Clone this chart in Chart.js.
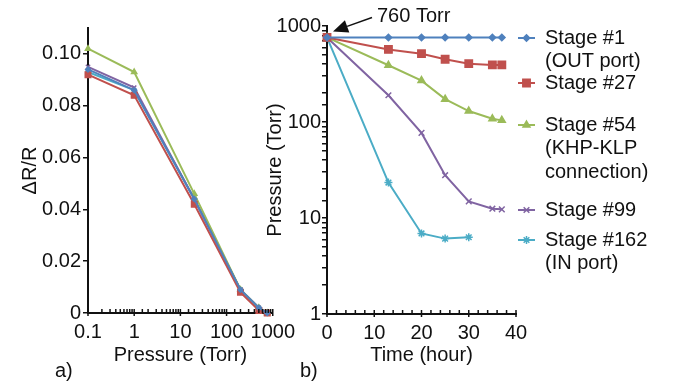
<!DOCTYPE html>
<html><head><meta charset="utf-8">
<script src="https://cdn.jsdelivr.net/npm/chart.js@4/dist/chart.umd.min.js"></script>
<style>
html,body{margin:0;padding:0;background:#fff;width:677px;height:384px;overflow:hidden;position:relative;font-family:'Liberation Sans',Arial,sans-serif;}
canvas{position:absolute;top:0;}
#ca{left:0}
#cb{left:250px}
.lbl{position:absolute;font-size:20px;color:#111;line-height:24px;}
</style></head><body>
<canvas id="ca" width="302" height="384"></canvas>
<canvas id="cb" width="427" height="384"></canvas>
<div class="lbl" style="left:55px;top:358px">a)</div>
<div class="lbl" style="left:300px;top:358px">b)</div>
<script>
// ---- data ----
const seriesNames = [['Stage #1','(OUT port)'],['Stage #27'],['Stage #54','(KHP-KLP','connection)'],['Stage #99'],['Stage #162','(IN port)']];
const seriesColors = ['#4F81BD','#C0504D','#9BBB59','#8064A2','#4BACC6'];
const seriesMarkers = ['rectRot','rect','triangle','crossRot','star'];

// panel a) : resistance change vs pressure
const pressureTorr = [0.1, 1, 20, 200, 500, 760];
const dR_stage1   = [0.094, 0.086, 0.044, 0.009, 0.002, 0];
const dR_stage27  = [0.092, 0.084, 0.042, 0.008, 0.001, 0];
const dR_stage54  = [0.102, 0.093, 0.046, 0.009, 0.002, 0];
const dR_stage99  = [0.095, 0.087, 0.044, 0.009, 0.002, 0];
const dR_stage162 = [0.093, 0.086, 0.044, 0.009, 0.002, 0];

// panel b) : pressure vs time
const timeHours   = [0, 13, 20, 25, 30, 35, 37];
const timeHours162 = [0, 13, 20, 25, 30];
const p_stage1   = [760, 760, 760, 760, 760, 760, 760];
const p_stage27  = [760, 570, 515, 450, 405, 393, 393];
const p_stage54  = [760, 390, 270, 173, 130, 108, 104];
const p_stage99  = [760, 190, 77, 27.9, 14.9, 12.5, 12.3];
const p_stage162 = [760, 23.4, 6.9, 6.1, 6.3];

const yTicksA = [0, 0.02, 0.04, 0.06, 0.08, 0.10];
const annotationText = '760 Torr';

// ---- helpers ----
const FONT = "'Liberation Sans', Arial, sans-serif";
const INK = '#111';
Chart.defaults.font.family = FONT;
Chart.defaults.font.size = 20;
Chart.defaults.color = INK;

const isPow10 = v => { const l = Math.log10(v); return Math.abs(l - Math.round(l)) < 1e-9; };
const fmt = v => String(Number(v.toPrecision(6)));
const pts = (xs, ys) => xs.map((x, i) => ({x: x, y: ys[i]}));

function makeDatasets(xsList, ysList, r) {
  return ysList.map((ys, i) => ({
    label: seriesNames[i].join(' '),
    data: pts(xsList[i], ys),
    borderColor: seriesColors[i],
    backgroundColor: seriesColors[i],
    pointBackgroundColor: seriesColors[i],
    pointBorderColor: seriesColors[i],
    pointStyle: seriesMarkers[i],
    pointRadius: seriesMarkers[i] === 'rect' ? r * 1.3 : (seriesMarkers[i] === 'rectRot' ? r * 0.8 : r),
    pointBorderWidth: 1.5,
    borderWidth: 2,
    fill: false,
    tension: 0,
    clip: false
  }));
}

const innerTicks = {
  id: 'innerTicks',
  afterDraw(chart) {
    const s = chart.scales.x, ctx = chart.ctx, y0 = s.top;
    ctx.save();
    ctx.strokeStyle = INK; ctx.lineWidth = 1.5;
    s.ticks.forEach(t => {
      const px = s.getPixelForValue(t.value);
      const major = t.label !== '' && t.label != null;
      ctx.beginPath();
      ctx.moveTo(px, y0 - 4);
      ctx.lineTo(px, major ? y0 + 3 : y0);
      ctx.stroke();
    });
    ctx.restore();
  }
};

function yAxisCommon(width) {
  return {
    border: {display: true, color: INK, width: 2},
    grid: {display: true, drawOnChartArea: false, drawTicks: true, tickLength: 5, color: INK, lineWidth: 1.5},
    afterFit: s => { s.width = width; }
  };
}
function xAxisCommon(height) {
  return {
    border: {display: true, color: INK, width: 2},
    grid: {display: true, drawOnChartArea: false, drawTicks: false},
    afterFit: s => { s.height = height; }
  };
}

// ---- panel a ----
new Chart(document.getElementById('ca'), {
  type: 'line',
  data: {
    datasets: makeDatasets(
      [pressureTorr, pressureTorr, pressureTorr, pressureTorr, pressureTorr],
      [dR_stage1, dR_stage27, dR_stage54, dR_stage99, dR_stage162], 3)
  },
  options: {
    responsive: false, animation: false,
    layout: {padding: {left: 18, top: 28, right: 24, bottom: 17}},
    plugins: {legend: {display: false}, tooltip: {enabled: false}},
    scales: {
      x: Object.assign(xAxisCommon(54), {
        type: 'logarithmic', min: 0.1, max: 1000,
        ticks: {autoSkip: false, maxRotation: 0, padding: 7,
          callback: v => isPow10(v) ? fmt(v) : ''},
        title: {display: true, text: 'Pressure (Torr)', padding: 0}
      }),
      y: Object.assign(yAxisCommon(70), {
        type: 'linear', min: 0, max: 0.11,
        afterBuildTicks: s => { s.ticks = yTicksA.map(v => ({value: v})); },
        ticks: {padding: 2, callback: v => v === 0 ? '0' : v.toFixed(2)},
        title: {display: true, text: 'ΔR/R', padding: 0}
      })
    }
  },
  plugins: [innerTicks]
});

// ---- panel b ----
const legendAndNote = {
  id: 'legendAndNote',
  afterDraw(chart) {
    const ctx = chart.ctx;
    ctx.save();
    // legend
    const firstLineY = [38, 83, 125, 210, 240];
    const lineH = 23.5, x0 = 268, x1 = 285, tx = 295;
    chart.data.datasets.forEach((ds, i) => {
      const y = firstLineY[i];
      ctx.strokeStyle = ds.borderColor; ctx.lineWidth = 2;
      ctx.beginPath(); ctx.moveTo(x0, y); ctx.lineTo(x1, y); ctx.stroke();
      ctx.fillStyle = ds.borderColor; ctx.lineWidth = 1.5;
      if (Chart.helpers && Chart.helpers.drawPoint) {
        Chart.helpers.drawPoint(ctx, {pointStyle: ds.pointStyle, radius: ds.pointRadius, rotation: 0, borderWidth: 1.5}, (x0 + x1) / 2, y);
      }
      ctx.fillStyle = INK;
      ctx.font = '20px ' + FONT;
      ctx.textBaseline = 'middle'; ctx.textAlign = 'left';
      seriesNames[i].forEach((line, k) => ctx.fillText(line, tx, y + k * lineH));
    });
    // annotation arrow pointing to the starting pressure
    const px = chart.scales.x.getPixelForValue(0);
    const py = chart.scales.y.getPixelForValue(p_stage1[0]);
    const tip = {x: px + 6, y: py - 6};
    const start = {x: tip.x + 39, y: tip.y - 14};
    const dx = start.x - tip.x, dy = start.y - tip.y, L = Math.hypot(dx, dy);
    const ux = dx / L, uy = dy / L;
    const hl = 15, hw = 6.5;
    ctx.strokeStyle = INK; ctx.lineWidth = 1.5;
    ctx.beginPath(); ctx.moveTo(start.x, start.y); ctx.lineTo(tip.x + ux * hl, tip.y + uy * hl); ctx.stroke();
    ctx.fillStyle = INK;
    ctx.beginPath();
    ctx.moveTo(tip.x, tip.y);
    ctx.lineTo(tip.x + ux * hl - uy * hw, tip.y + uy * hl + ux * hw);
    ctx.lineTo(tip.x + ux * hl + uy * hw, tip.y + uy * hl - ux * hw);
    ctx.closePath(); ctx.fill();
    ctx.font = '20px ' + FONT;
    ctx.textBaseline = 'middle'; ctx.textAlign = 'left';
    ctx.fillText(annotationText, start.x + 5, start.y - 0.5);
    ctx.restore();
  }
};

new Chart(document.getElementById('cb'), {
  type: 'line',
  data: {
    datasets: makeDatasets(
      [timeHours, timeHours, timeHours, timeHours, timeHours162],
      [p_stage1, p_stage27, p_stage54, p_stage99, p_stage162], 4)
  },
  options: {
    responsive: false, animation: false,
    layout: {padding: {left: 13, top: 26, right: 161, bottom: 17}},
    plugins: {legend: {display: false}, tooltip: {enabled: false}},
    scales: {
      x: Object.assign(xAxisCommon(53), {
        type: 'linear', min: 0, max: 40,
        ticks: {stepSize: 2, autoSkip: false, maxRotation: 0, padding: 7,
          callback: v => (v % 10 === 0) ? String(v) : ''},
        title: {display: true, text: 'Time (hour)', padding: 0}
      }),
      y: Object.assign(yAxisCommon(64), {
        type: 'logarithmic', min: 1, max: 1000,
        ticks: {autoSkip: false, padding: 1, callback: v => isPow10(v) ? fmt(v) : ''},
        title: {display: true, text: 'Pressure (Torr)', padding: 0}
      })
    }
  },
  plugins: [innerTicks, legendAndNote]
});
</script>
</body></html>
